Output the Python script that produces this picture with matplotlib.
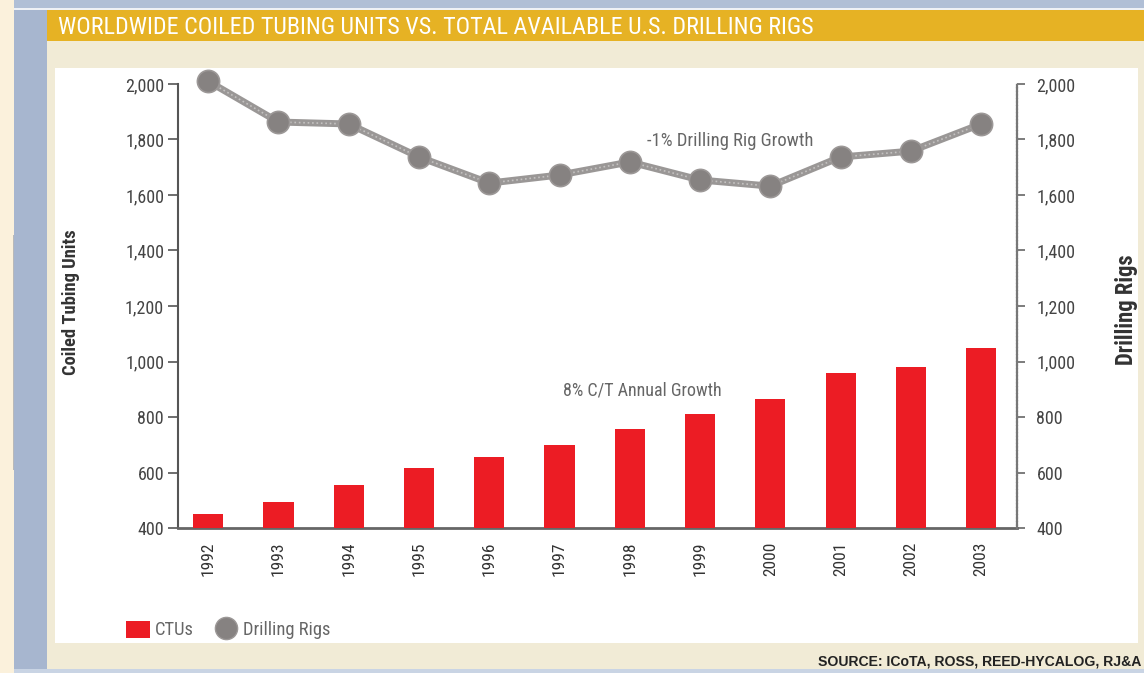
import matplotlib
matplotlib.use('Agg')
import matplotlib.pyplot as plt
from matplotlib.patches import Rectangle
from matplotlib.lines import Line2D
from matplotlib import font_manager as fm

# ---------------- data ----------------
years = ['1992', '1993', '1994', '1995', '1996', '1997', '1998', '1999', '2000', '2001', '2002', '2003']
ctu_units = [450, 495, 555, 615, 655, 700, 755, 810, 865, 960, 980, 1050]
drilling_rigs = [2010, 1863, 1856, 1737, 1643, 1672, 1719, 1654, 1632, 1737, 1758, 1856]
y_ticks = [400, 600, 800, 1000, 1200, 1400, 1600, 1800, 2000]
y_tick_labels = ['400', '600', '800', '1,000', '1,200', '1,400', '1,600', '1,800', '2,000']

title_text = 'WORLDWIDE COILED TUBING UNITS VS. TOTAL AVAILABLE U.S. DRILLING RIGS'
source_text = 'SOURCE: ICoTA, ROSS, REED-HYCALOG, RJ&A'
rig_note = '-1% Drilling Rig Growth'
ctu_note = '8% C/T Annual Growth'

# ---------------- fonts ----------------
entries = fm.fontManager.ttflist
names = {f.name for f in entries}
NARROW, STRETCH = 'DejaVu Sans', 'normal'
for cand in ['Liberation Sans Narrow', 'Roboto Condensed', 'Open Sans Condensed',
             'Noto Sans Condensed', 'DejaVu Sans Condensed']:
    if cand in names:
        NARROW = cand
        break
else:
    for fam in ['Roboto', 'Noto Sans', 'Open Sans', 'DejaVu Sans']:
        if any(f.name == fam and str(f.stretch) in ('condensed', 'semi-condensed', '75', '87')
               for f in entries):
            NARROW, STRETCH = fam, 'condensed'
            break
SANS = 'Liberation Sans' if 'Liberation Sans' in names else 'DejaVu Sans'
NF = dict(fontfamily=NARROW, fontstretch=STRETCH)

W, H = 1144, 673
fig = plt.figure(figsize=(W / 100, H / 100), dpi=100)
fig.patch.set_facecolor('#F1EBD6')


def rect(x0, y0, x1, y1, color, z=-10):
    fig.patches.append(Rectangle((x0 / W, 1 - y1 / H), (x1 - x0) / W, (y1 - y0) / H,
                                 transform=fig.transFigure, facecolor=color,
                                 edgecolor='none', zorder=z))


# page decoration
rect(0, 0, 14, H, '#FBF1DC')
rect(13, 235, 14, 470, '#B9B9B9', z=-9)
rect(14, 0, 47, H, '#A7B6CF')
rect(14, 0, W, 8, '#B0BFD6')
rect(14, 8, W, 10, '#EEF1F6')
rect(47, 10, W, 41, '#E6B224')
rect(55, 68, 1138, 643, '#FFFFFF')
rect(14, 669, W, H, '#C9D4E4')

# ---------------- axes ----------------
ax_left, ax_right, ax_top, ax_bottom = 178, 1017, 84, 528
ax = fig.add_axes([ax_left / W, 1 - ax_bottom / H, (ax_right - ax_left) / W, (ax_bottom - ax_top) / H])
ax.set_facecolor('none')
ax2 = ax.twinx()
ax2.set_facecolor('none')

x = list(range(len(years)))
ax.bar(x, [v - 400 for v in ctu_units], bottom=400, width=0.43, color='#EC1C24', zorder=3)
ax2.plot(x, drilling_rigs, color='#9A9796', lw=5, zorder=3, clip_on=False,
         solid_capstyle='round')
ax2.plot(x, drilling_rigs, color='#C4C2C1', lw=1.2, ls=':', zorder=4, clip_on=False)
ax2.plot(x, drilling_rigs, ls='none', marker='o', ms=16, mfc='#868281', mec='#9C9897',
         mew=1.2, zorder=5, clip_on=False)

for a in (ax, ax2):
    a.set_ylim(400, 2000)
    a.set_xlim(-0.43, 11.51)
    a.set_yticks(y_ticks)
    a.set_yticklabels(y_tick_labels)

ax.set_xticks(x)
ax.set_xticklabels(years, rotation=90, fontsize=12.5, color='#333333', **NF)
ax.tick_params(axis='x', length=0, pad=10)
ax.tick_params(axis='y', direction='out', length=7, width=1.2, color='#555555',
               labelsize=13, labelcolor='#444444', pad=3)
ax2.tick_params(axis='y', direction='out', length=6, width=1.2, color='#666666',
                labelsize=13, labelcolor='#444444', pad=8)
for lab in ax.get_yticklabels() + ax2.get_yticklabels():
    lab.set_fontfamily(NARROW)
    lab.set_fontstretch(STRETCH)

for a in (ax, ax2):
    a.spines['top'].set_visible(False)
ax.spines['right'].set_visible(False)
ax2.spines['left'].set_visible(False)
ax2.spines['bottom'].set_visible(False)
ax.spines['left'].set_color('#555555')
ax.spines['left'].set_linewidth(1.5)
ax.spines['bottom'].set_color('#666666')
ax.spines['bottom'].set_linewidth(2)
ax2.spines['right'].set_color('#777777')
ax2.spines['right'].set_linewidth(1.6)
ax2.spines['right'].set_linestyle((0, (1, 0.6)))

# ---------------- texts ----------------
t_title = fig.text(58 / W, 1 - 27 / H, title_text, color='white', fontweight='normal',
                   fontsize=17, va='center', ha='left', **NF)
t_src = fig.text(1141 / W, 1 - 662 / H, source_text, color='#222222', fontfamily=SANS,
                 fontweight='bold', fontsize=10, va='center', ha='right')
t_ylab = fig.text(71 / W, 1 - 302 / H, 'Coiled Tubing Units', rotation=90,
                  fontweight='bold', fontsize=13, color='#333333', va='center', ha='center', **NF)
t_ylab2 = fig.text(1127 / W, 1 - 310 / H, 'Drilling Rigs', rotation=90,
                   fontweight='bold', fontsize=13, color='#333333', va='center', ha='center', **NF)
t_rig = fig.text(647 / W, 1 - 141 / H, rig_note, fontsize=11,
                 color='#666666', va='center', ha='left', **NF)
t_ctu = fig.text(563 / W, 1 - 390 / H, ctu_note, fontsize=11,
                 color='#666666', va='center', ha='left', **NF)

leg_size = 13.3
fs_px = leg_size * 100 / 72
handles = [Rectangle((0, 0), 1, 1, facecolor='#EC1C24', edgecolor='none'),
           Line2D([], [], ls='none', marker='o', ms=16, mfc='#868281', mec='#9C9897')]
leg = fig.legend(handles, ['CTUs', 'Drilling Rigs'], loc='center left',
                 bbox_to_anchor=(126 / W, 1 - 630 / H), ncol=2, frameon=False,
                 prop={'family': NARROW, 'stretch': STRETCH, 'size': leg_size},
                 handlelength=24 / fs_px, handleheight=19 / fs_px,
                 handletextpad=5 / fs_px, columnspacing=20 / fs_px,
                 borderaxespad=0, borderpad=0)
for t in leg.get_texts():
    t.set_color('#666666')


def fit(t, target_px, vertical=False):
    fig.canvas.draw()
    bb = t.get_window_extent(fig.canvas.get_renderer())
    cur = bb.height if vertical else bb.width
    t.set_fontsize(t.get_fontsize() * target_px / cur)


fit(t_title, 754)
fit(t_src, 323)
fit(t_ylab, 145, vertical=True)
fit(t_ylab2, 110, vertical=True)
fit(t_rig, 166)
fit(t_ctu, 159)

fig.savefig('out.png', dpi=100)
